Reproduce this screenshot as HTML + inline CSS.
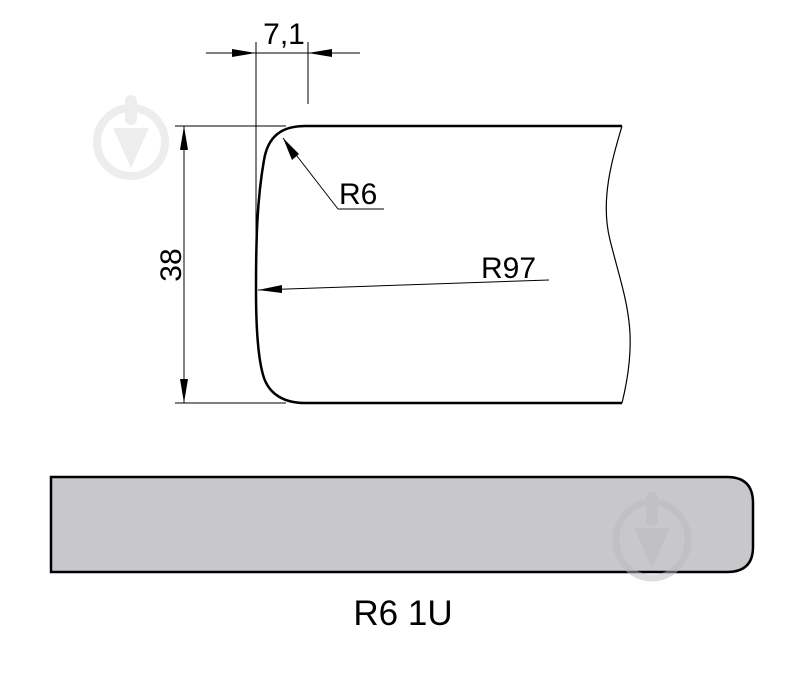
<!DOCTYPE html>
<html><head><style>body{margin:0;background:#fff}svg{display:block}</style></head><body>
<svg width="799" height="676" viewBox="0 0 799 676" xmlns="http://www.w3.org/2000/svg" font-family="Liberation Sans, sans-serif">
<g opacity="0.35" fill="#ccc" stroke="#ccc">
<circle cx="131" cy="142" r="34" fill="none" stroke-width="8"/>
<rect x="125" y="95" width="12" height="30" rx="6" stroke="none"/>
<path d="M113 128 L149 128 L131 168 Z" stroke="none"/>
</g>
<path d="M305 126 L622 126 M305 126 C282 126 268 136 264 160 C257 200 256 240 256 290 C256 330 258 360 264 378 C270 395 285 403 305 403 L622 403" fill="none" stroke="#000" stroke-width="2.5"/>
<path d="M622 126 C612 160 600 200 610 240 C625 300 640 330 622 403" fill="none" stroke="#000" stroke-width="1.2"/>
<g stroke="#000" stroke-width="1">
<line x1="256" y1="42" x2="256" y2="290"/>
<line x1="308" y1="42" x2="308" y2="104"/>
<line x1="206" y1="53" x2="360" y2="53"/>
<line x1="175" y1="126" x2="286" y2="126"/>
<line x1="175" y1="403" x2="286" y2="403"/>
<line x1="184" y1="126" x2="184" y2="403"/>
<line x1="283" y1="138" x2="338" y2="209"/>
<line x1="338" y1="209" x2="384" y2="209"/>
<line x1="258" y1="290" x2="549" y2="280"/>
</g>
<g fill="#000">
<path d="M256 53 L232 49 L232 57 Z"/>
<path d="M308 53 L332 49 L332 57 Z"/>
<path d="M184 126 L180 150 L188 150 Z"/>
<path d="M184 403 L180 379 L188 379 Z"/>
<path d="M283 138 L292 160 L299 154 Z"/>
<path d="M258 290 L282 285 L282 293 Z"/>
</g>
<g font-size="30" fill="#000">
<text x="284" y="44" text-anchor="middle">7,1</text>
<text x="339" y="204">R6</text>
<text x="481" y="278">R97</text>
<text transform="translate(181,265) rotate(-90)" text-anchor="middle">38</text>
</g>
<path d="M51 477 L727 477 Q753 477 753 503 L753 547 Q753 572 727 572 L51 572 Z" fill="#c8c8cc" stroke="#000" stroke-width="2.5"/>
<g opacity="0.5" fill="#bbb" stroke="#bbb">
<ellipse cx="652" cy="540" rx="36" ry="38" fill="none" stroke-width="7"/>
<rect x="646" y="492" width="12" height="34" rx="6" stroke="none"/>
<path d="M634 528 L670 528 L652 568 Z" stroke="none"/>
</g>
<text x="403" y="625" font-size="35" text-anchor="middle" fill="#000">R6 1U</text>
</svg>
</body></html>
